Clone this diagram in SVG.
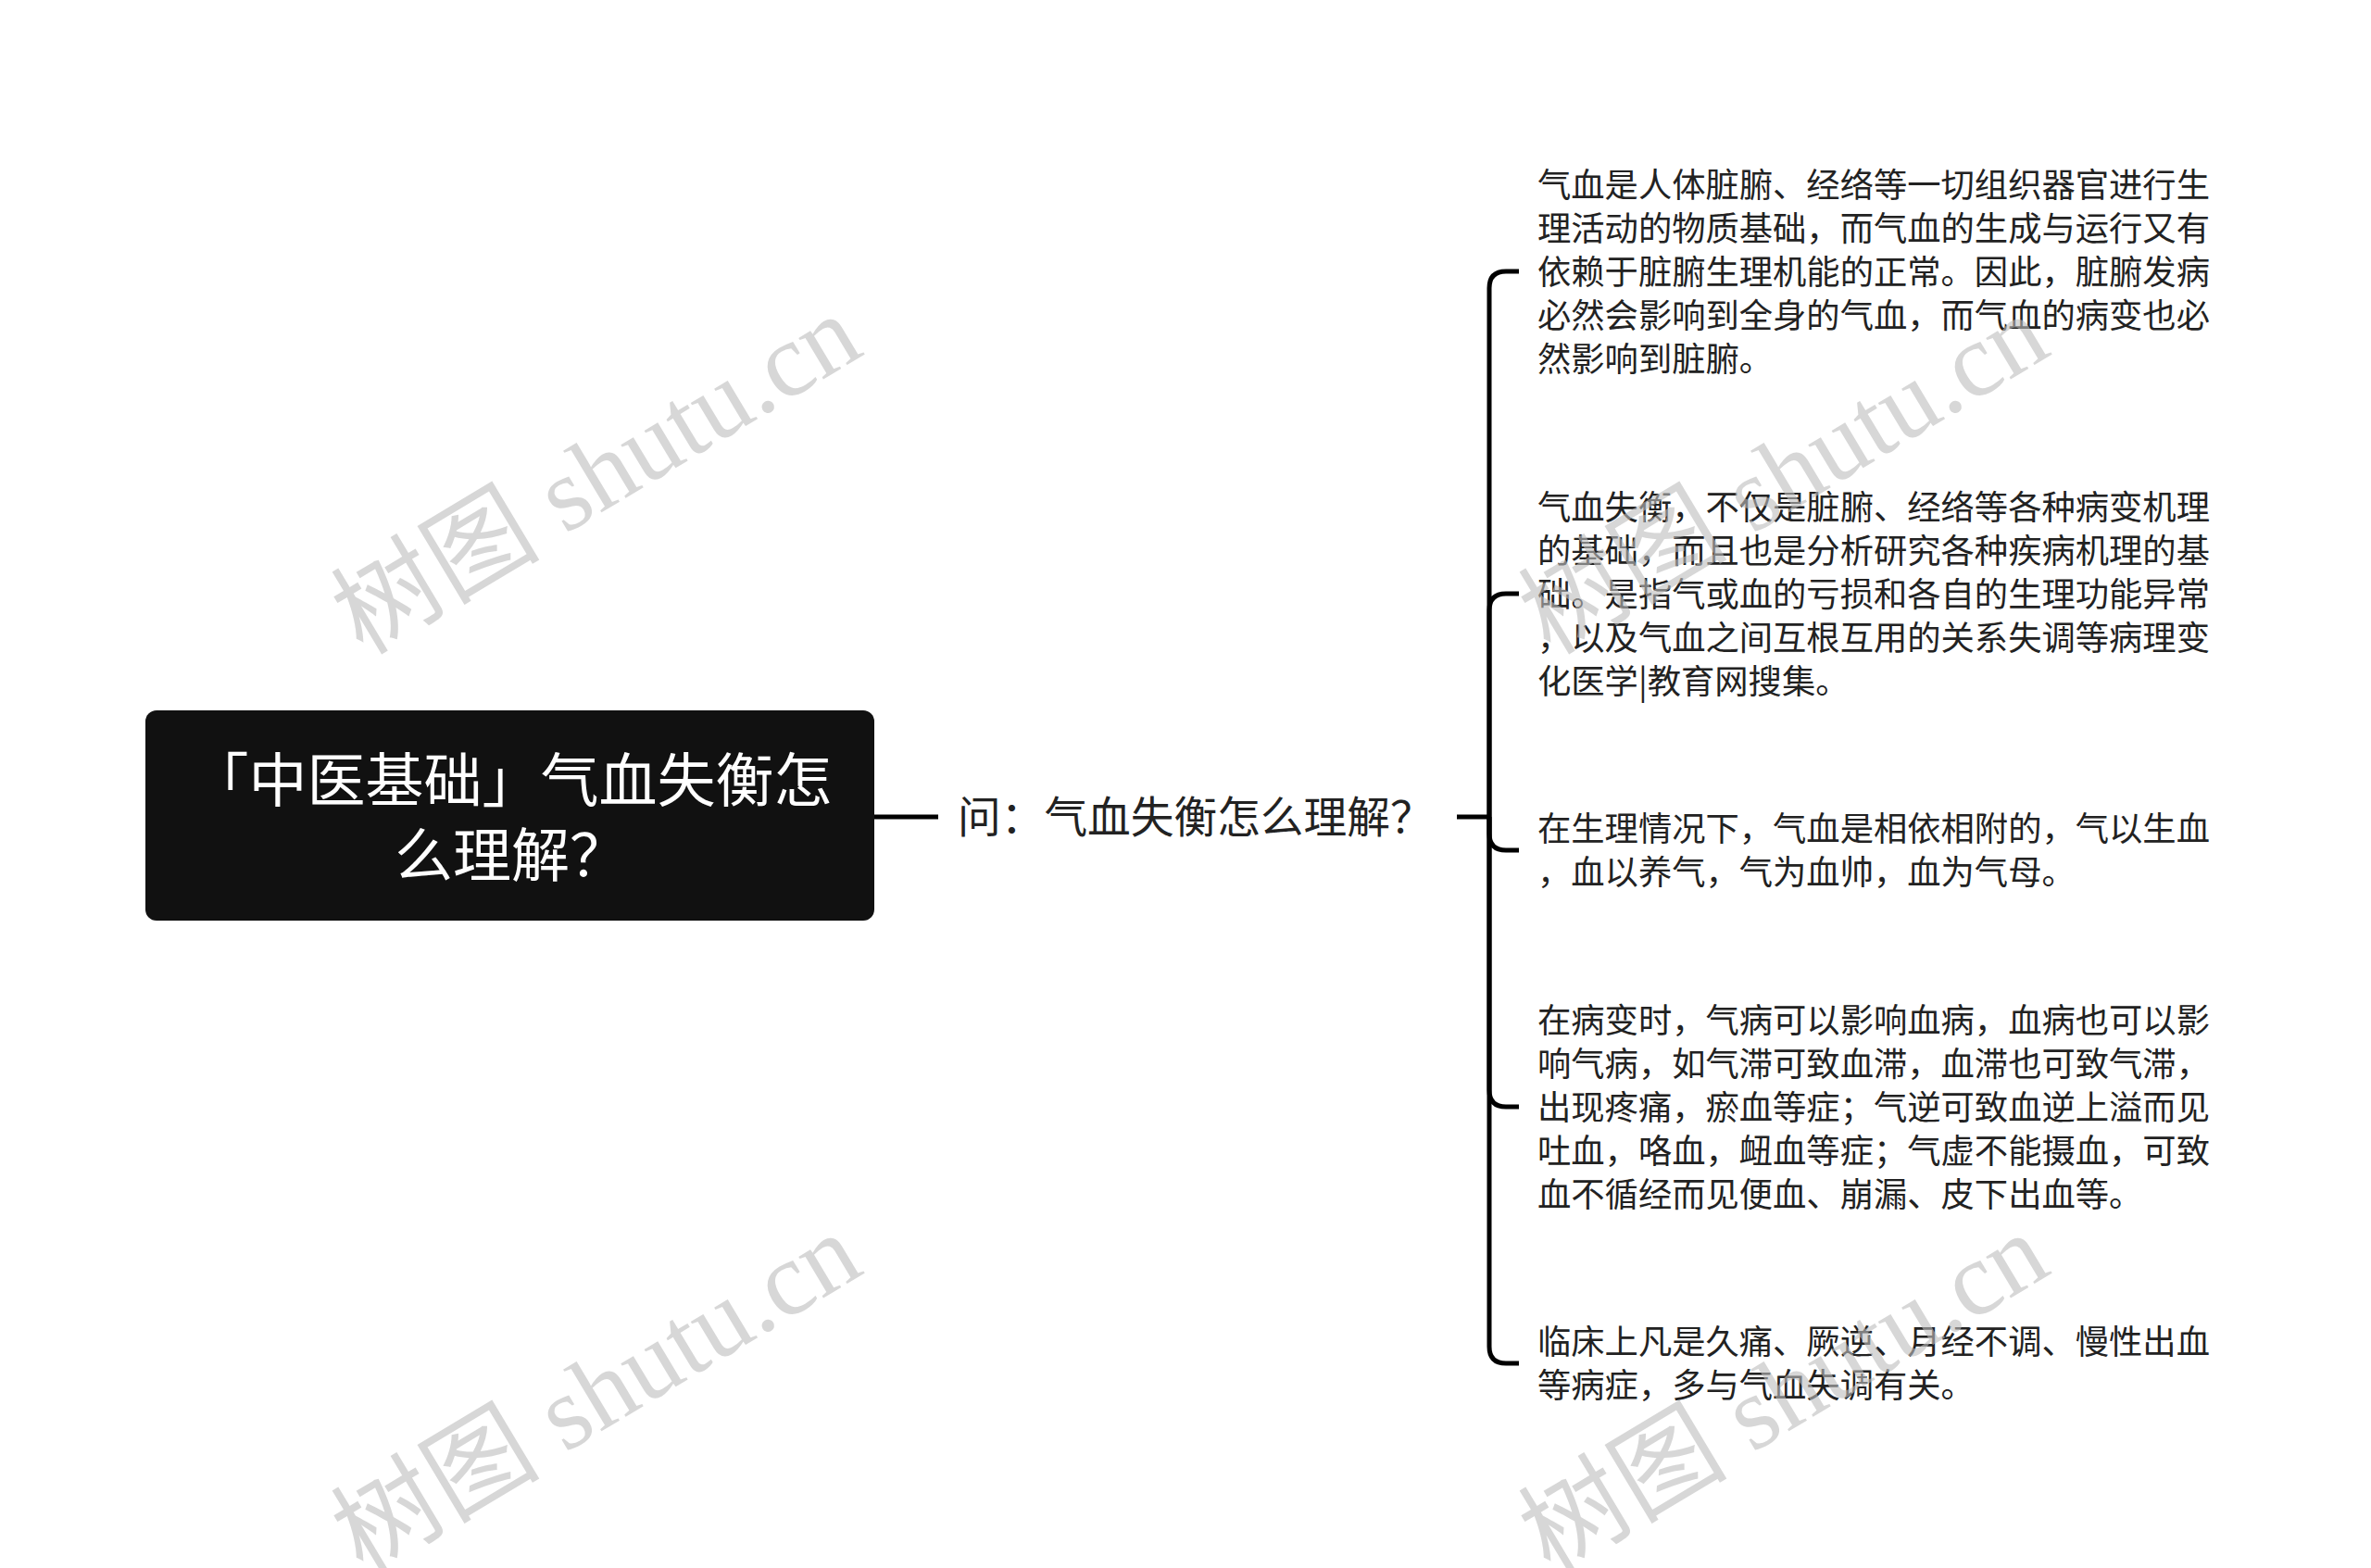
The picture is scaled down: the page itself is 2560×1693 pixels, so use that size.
<svg xmlns="http://www.w3.org/2000/svg" width="2560" height="1693" viewBox="0 0 2560 1693">
<style>
.cjk{font-family:"Noto Sans CJK SC","Noto Sans",sans-serif;}
.root-t{fill:#ffffff;font-size:63px;text-anchor:middle;}
.mid-t{fill:#222222;font-size:46.7px;}
.leaf-t{fill:#222222;font-size:36.3px;}
.conn{fill:none;stroke:#000000;stroke-width:5;}
.wm{font-family:"Liberation Serif","Noto Sans CJK SC",serif;font-size:113px;fill:#bdbdbd;opacity:0.6;text-anchor:middle;}
</style>
<rect width="2560" height="1693" fill="#ffffff"/>
<g id="connectors">
<path class="conn" d="M944,882 H1013"/>
<path class="conn" d="M1573,882 H1608"/>
<path class="conn" d="M1608,882 V311 Q1608,293 1626,293 H1640"/>
<path class="conn" d="M1608,882 V659 Q1608,641 1626,641 H1640"/>
<path class="conn" d="M1608,882 V900 Q1608,918 1626,918 H1640"/>
<path class="conn" d="M1608,882 V1177 Q1608,1195 1626,1195 H1640"/>
<path class="conn" d="M1608,882 V1454 Q1608,1472 1626,1472 H1640"/>
</g>
<g id="root">
<rect x="157" y="767" width="787" height="227" rx="12" ry="12" fill="#111111"/>
<text class="cjk root-t" x="552" y="865">「中医基础」气血失衡怎</text>
<text class="cjk root-t" x="552" y="946">么理解？</text>
</g>
<g id="question">
<text class="cjk mid-t" x="1034" y="899">问：气血失衡怎么理解？</text>
</g>
<g id="leaf1">
<text class="cjk leaf-t" x="1660" y="213">气血是人体脏腑、经络等一切组织器官进行生</text>
<text class="cjk leaf-t" x="1660" y="260">理活动的物质基础，而气血的生成与运行又有</text>
<text class="cjk leaf-t" x="1660" y="307">依赖于脏腑生理机能的正常。因此，脏腑发病</text>
<text class="cjk leaf-t" x="1660" y="354">必然会影响到全身的气血，而气血的病变也必</text>
<text class="cjk leaf-t" x="1660" y="401">然影响到脏腑。</text>
</g>
<g id="leaf2">
<text class="cjk leaf-t" x="1660" y="561">气血失衡，不仅是脏腑、经络等各种病变机理</text>
<text class="cjk leaf-t" x="1660" y="608">的基础，而且也是分析研究各种疾病机理的基</text>
<text class="cjk leaf-t" x="1660" y="655">础。是指气或血的亏损和各自的生理功能异常</text>
<text class="cjk leaf-t" x="1660" y="702">，以及气血之间互根互用的关系失调等病理变</text>
<text class="cjk leaf-t" x="1660" y="749">化医学|教育网搜集。</text>
</g>
<g id="leaf3">
<text class="cjk leaf-t" x="1660" y="908">在生理情况下，气血是相依相附的，气以生血</text>
<text class="cjk leaf-t" x="1660" y="955">，血以养气，气为血帅，血为气母。</text>
</g>
<g id="leaf4">
<text class="cjk leaf-t" x="1660" y="1115">在病变时，气病可以影响血病，血病也可以影</text>
<text class="cjk leaf-t" x="1660" y="1162">响气病，如气滞可致血滞，血滞也可致气滞，</text>
<text class="cjk leaf-t" x="1660" y="1209">出现疼痛，瘀血等症；气逆可致血逆上溢而见</text>
<text class="cjk leaf-t" x="1660" y="1256">吐血，咯血，衄血等症；气虚不能摄血，可致</text>
<text class="cjk leaf-t" x="1660" y="1303">血不循经而见便血、崩漏、皮下出血等。</text>
</g>
<g id="leaf5">
<text class="cjk leaf-t" x="1660" y="1462">临床上凡是久痛、厥逆、月经不调、慢性出血</text>
<text class="cjk leaf-t" x="1660" y="1509">等病症，多与气血失调有关。</text>
</g>
<g id="watermarks">
<text class="wm" transform="translate(645,514) rotate(-31)" x="0" y="36">树图 shutu.cn</text>
<text class="wm" transform="translate(645,1506) rotate(-31)" x="0" y="36">树图 shutu.cn</text>
<text class="wm" transform="translate(1927,514) rotate(-31)" x="0" y="36">树图 shutu.cn</text>
<text class="wm" transform="translate(1927,1506) rotate(-31)" x="0" y="36">树图 shutu.cn</text>
</g>
</svg>
